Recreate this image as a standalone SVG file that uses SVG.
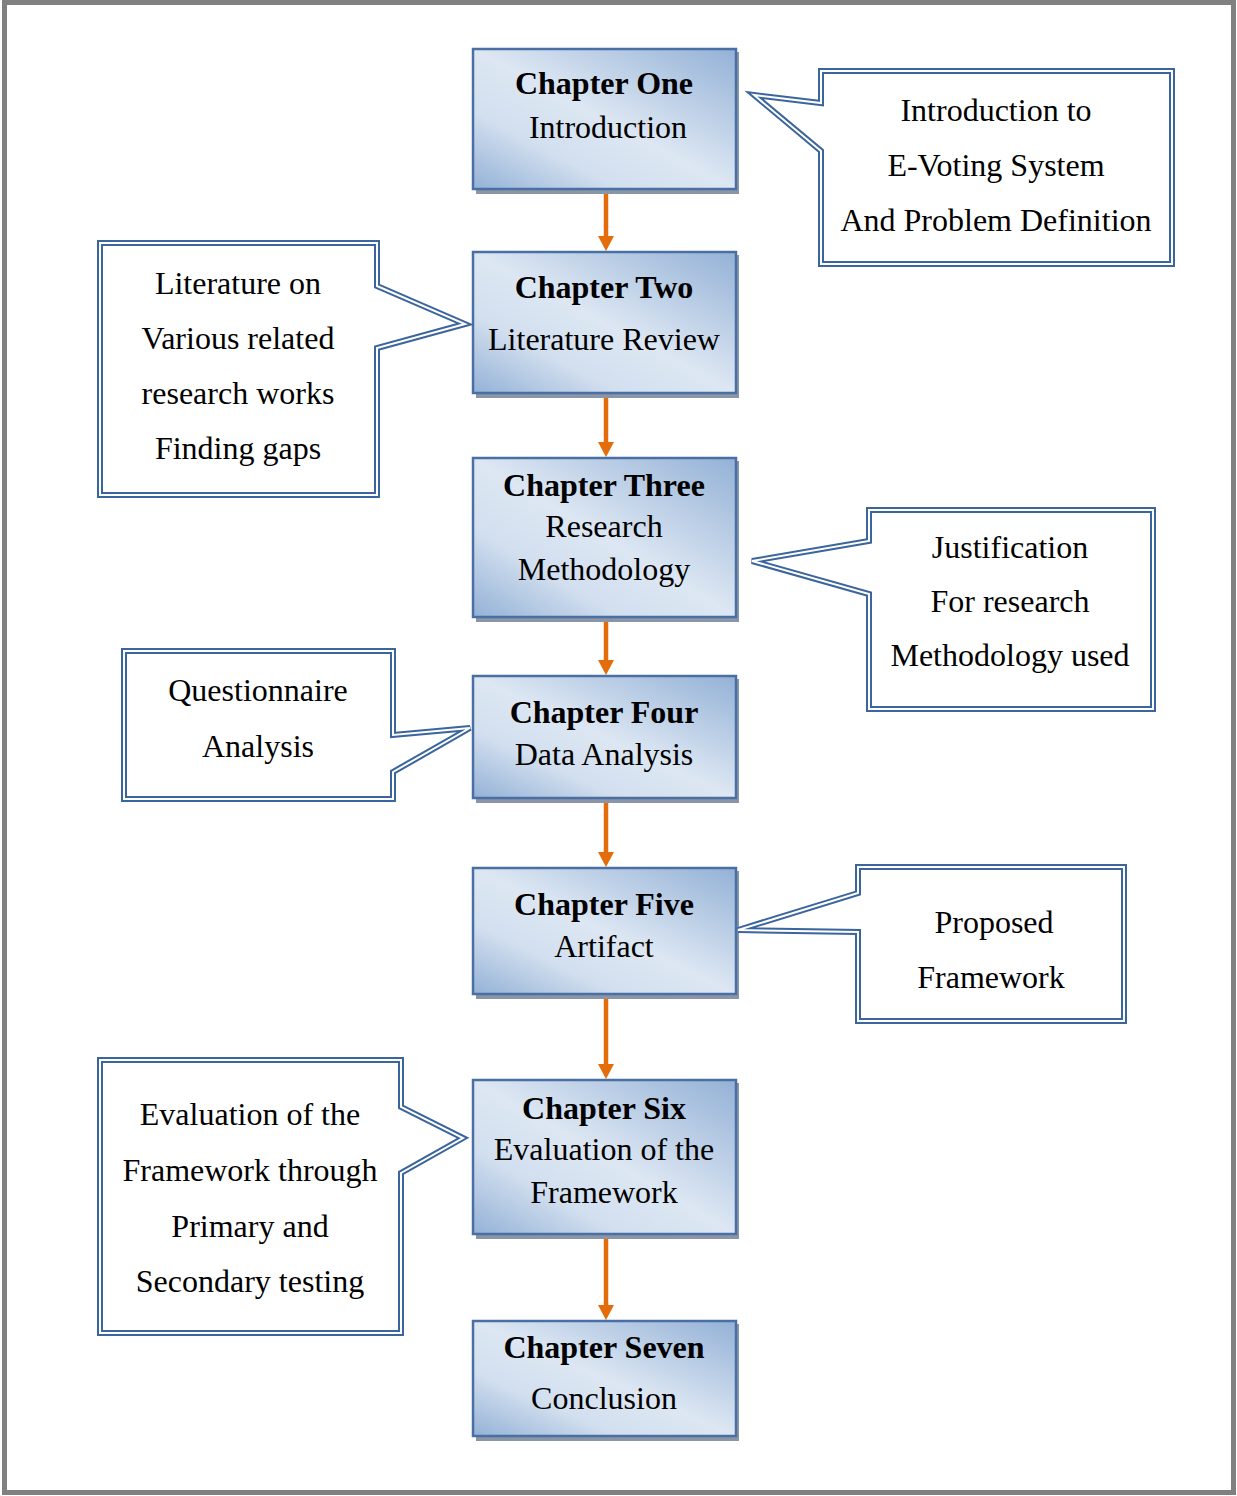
<svg xmlns="http://www.w3.org/2000/svg" width="1237" height="1496" viewBox="0 0 1237 1496">
  <defs>
    <linearGradient id="boxFill" x1="1" y1="0" x2="0" y2="1">
      <stop offset="0" stop-color="#93b1d6"/>
      <stop offset="0.5" stop-color="#dde7f3"/>
      <stop offset="0.72" stop-color="#d2dfef"/>
      <stop offset="1" stop-color="#93b1d6"/>
    </linearGradient>
    <marker id="arrowHead" markerWidth="8" markerHeight="8" refX="4" refY="4" orient="auto" markerUnits="userSpaceOnUse" viewBox="0 0 8 8">
      <path d="M0,0 L8,4 L0,8 Z" fill="#e46c0a"/>
    </marker>
  </defs>
  <style>
    .page { fill: #ffffff; stroke: #808080; stroke-width: 5; }
    .shadow { fill: #8a96a6; }
    .box { fill: url(#boxFill); stroke: #4a6fa5; stroke-width: 2.5; }
    .title { font-family: "Liberation Serif", "Times New Roman", serif; font-size: 32px; font-weight: bold; fill: #000; text-anchor: middle; }
    .sub { font-family: "Liberation Serif", "Times New Roman", serif; font-size: 32px; fill: #000; text-anchor: middle; }
    .txt { font-family: "Liberation Serif", "Times New Roman", serif; font-size: 32px; fill: #000; text-anchor: middle; }
    .outer { fill: #ffffff; stroke: #3b659d; stroke-width: 6; stroke-linejoin: miter; }
    .inner { fill: none; stroke: #ffffff; stroke-width: 2; stroke-linejoin: miter; }
    .link { stroke: #e46c0a; stroke-width: 4.5; fill: none; }
    .tip { fill: #e46c0a; }
  </style>

  <!-- page frame -->
  <rect class="page" x="4.5" y="2.5" width="1229" height="1490"/>

  <!-- connectors -->
  <g id="connectors">
    <line class="link" x1="606" y1="190" x2="606" y2="238"/>
    <path class="tip" d="M598,236 L614,236 L606,251 Z"/>
    <line class="link" x1="606" y1="394" x2="606" y2="444"/>
    <path class="tip" d="M598,442 L614,442 L606,457 Z"/>
    <line class="link" x1="606" y1="618" x2="606" y2="662"/>
    <path class="tip" d="M598,660 L614,660 L606,675 Z"/>
    <line class="link" x1="606" y1="799" x2="606" y2="854"/>
    <path class="tip" d="M598,852 L614,852 L606,867 Z"/>
    <line class="link" x1="606" y1="995" x2="606" y2="1066"/>
    <path class="tip" d="M598,1064 L614,1064 L606,1079 Z"/>
    <line class="link" x1="606" y1="1235" x2="606" y2="1307"/>
    <path class="tip" d="M598,1305 L614,1305 L606,1320 Z"/>
  </g>

  <!-- chapter boxes -->
  <g id="chapter-one">
    <rect class="shadow" x="476" y="52" width="263" height="142"/>
    <rect class="box" x="473" y="49" width="263" height="140"/>
    <text class="title" x="604" y="94">Chapter One</text>
    <text class="sub" x="608" y="138">Introduction</text>
  </g>
  <g id="chapter-two">
    <rect class="shadow" x="476" y="255" width="263" height="143"/>
    <rect class="box" x="473" y="252" width="263" height="141"/>
    <text class="title" x="604" y="298">Chapter Two</text>
    <text class="sub" x="604" y="350">Literature Review</text>
  </g>
  <g id="chapter-three">
    <rect class="shadow" x="476" y="461" width="263" height="161"/>
    <rect class="box" x="473" y="458" width="263" height="159"/>
    <text class="title" x="604" y="496">Chapter Three</text>
    <text class="sub" x="604" y="537">Research</text>
    <text class="sub" x="604" y="580">Methodology</text>
  </g>
  <g id="chapter-four">
    <rect class="shadow" x="476" y="679" width="263" height="124"/>
    <rect class="box" x="473" y="676" width="263" height="122"/>
    <text class="title" x="604" y="723">Chapter Four</text>
    <text class="sub" x="604" y="765">Data Analysis</text>
  </g>
  <g id="chapter-five">
    <rect class="shadow" x="476" y="871" width="263" height="128"/>
    <rect class="box" x="473" y="868" width="263" height="126"/>
    <text class="title" x="604" y="915">Chapter Five</text>
    <text class="sub" x="604" y="957">Artifact</text>
  </g>
  <g id="chapter-six">
    <rect class="shadow" x="476" y="1083" width="263" height="156"/>
    <rect class="box" x="473" y="1080" width="263" height="154"/>
    <text class="title" x="604" y="1119">Chapter Six</text>
    <text class="sub" x="604" y="1160">Evaluation of the</text>
    <text class="sub" x="604" y="1203">Framework</text>
  </g>
  <g id="chapter-seven">
    <rect class="shadow" x="476" y="1324" width="263" height="117"/>
    <rect class="box" x="473" y="1321" width="263" height="115"/>
    <text class="title" x="604" y="1358">Chapter Seven</text>
    <text class="sub" x="604" y="1409">Conclusion</text>
  </g>

  <!-- callouts -->
  <g id="note-intro">
    <path class="outer" d="M821,71 H1172 V264 H821 V151 L754,95 L821,103 Z"/>
    <path class="inner" d="M821,71 H1172 V264 H821 V151 L754,95 L821,103 Z"/>
    <text class="txt" x="996" y="121">Introduction to</text>
    <text class="txt" x="996" y="176">E-Voting System</text>
    <text class="txt" x="996" y="231">And Problem Definition</text>
  </g>
  <g id="note-literature">
    <path class="outer" d="M100,243 H377 V286 L465,324 L377,348 V495 H100 Z"/>
    <path class="inner" d="M100,243 H377 V286 L465,324 L377,348 V495 H100 Z"/>
    <text class="txt" x="238" y="294">Literature on</text>
    <text class="txt" x="238" y="349">Various related</text>
    <text class="txt" x="238" y="404">research works</text>
    <text class="txt" x="238" y="459">Finding gaps</text>
  </g>
  <g id="note-methodology">
    <path class="outer" d="M869,510 H1153 V709 H869 V594 L752,561 L869,541 Z"/>
    <path class="inner" d="M869,510 H1153 V709 H869 V594 L752,561 L869,541 Z"/>
    <text class="txt" x="1010" y="558">Justification</text>
    <text class="txt" x="1010" y="612">For research</text>
    <text class="txt" x="1010" y="666">Methodology used</text>
  </g>
  <g id="note-questionnaire">
    <path class="outer" d="M124,651 H393 V735 L470,728 L393,772 V799 H124 Z"/>
    <path class="inner" d="M124,651 H393 V735 L470,728 L393,772 V799 H124 Z"/>
    <text class="txt" x="258" y="701">Questionnaire</text>
    <text class="txt" x="258" y="757">Analysis</text>
  </g>
  <g id="note-framework">
    <path class="outer" d="M858,867 H1124 V1021 H858 V932 L738,930 L858,893 Z"/>
    <path class="inner" d="M858,867 H1124 V1021 H858 V932 L738,930 L858,893 Z"/>
    <text class="txt" x="994" y="933">Proposed</text>
    <text class="txt" x="991" y="988">Framework</text>
  </g>
  <g id="note-evaluation">
    <path class="outer" d="M100,1060 H401 V1107 L463,1138 L401,1173 V1333 H100 Z"/>
    <path class="inner" d="M100,1060 H401 V1107 L463,1138 L401,1173 V1333 H100 Z"/>
    <text class="txt" x="250" y="1125">Evaluation of the</text>
    <text class="txt" x="250" y="1181">Framework through</text>
    <text class="txt" x="250" y="1237">Primary and</text>
    <text class="txt" x="250" y="1292">Secondary testing</text>
  </g>
</svg>
